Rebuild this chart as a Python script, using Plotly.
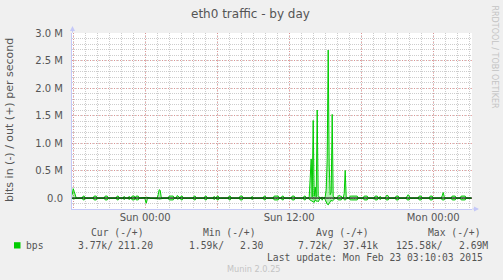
import pandas as pd
import plotly.graph_objects as go

# ---------------- data ----------------
title = "eth0 traffic - by day"
y_label = "bits in (-) / out (+) per second"
watermark = "RRDTOOL / TOBI OETIKER"
footer = "Munin 2.0.25"
last_update = "Last update: Mon Feb 23 03:10:03 2015"
series_name = "bps"

start_time = "2015-02-21 17:55:00"   # one sample every 5 minutes

# out (+) traffic, kbit/s
out_kbps = [
    60, 170, 120, 40, .5, .5, .5, .5, .5, .5, .5, 35, 35, .5, .5, .5, .5, .5, .5, .5,
    .5, .5, 35, 35, 35, .5, .5, .5, .5, .5, .5, .5, .5, 35, 35, 35, .5, .5, .5, .5,
    .5, .5, .5, .5, .5, 35, 35, .5, .5, .5, .5, .5, 30, .5, .5, .5, .5, 30, .5, .5,
    35, 35, 35, .5, 35, 35, 35, .5, .5, .5, .5, .5, .5, 10, 15, 10, .5, .5, .5, .5,
    .5, .5, .5, .5, .5, .5, 60, 150, 140, 20, .5, .5, .5, .5, .5, .5, .5, 35, 35, 35,
    35, 35, .5, .5, .5, 45, 25, .5, .5, 35, 35, .5, .5, .5, .5, .5, .5, .5, .5, .5,
    .5, .5, 35, 35, .5, .5, .5, .5, .5, .5, .5, .5, .5, 35, 35, .5, .5, .5, .5, .5,
    .5, .5, 30, .5, .5, 35, 35, .5, .5, .5, .5, .5, .5, .5, .5, .5, .5, 35, 35, .5,
    .5, .5, .5, .5, .5, .5, .5, .5, 35, 35, 35, .5, .5, .5, .5, .5, .5, .5, .5, .5,
    30, .5, .5, .5, .5, .5, .5, .5, .5, .5, .5, .5, 35, 35, .5, .5, .5, .5, .5, .5,
    .5, .5, 35, 35, 35, 35, 35, .5, .5, .5, 35, 35, .5, .5, .5, .5, .5, .5, .5, .5,
    35, 35, 35, .5, .5, .5, .5, .5, .5, .5, .5, .5, 35, 35, .5, .5, .5, 20, 300, 710,
    20, 1410, 30, 200, 20, 1600, 40, 10, .5, .5, 20, .5, .5, 20, 150, 700, 2690, 600, 60, 100,
    1520, 30, 10, .5, .5, .5, 35, 50, 35, 35, .5, .5, 80, 500, 20, .5, .5, .5, 35, 35,
    35, 35, 35, 35, 35, 35, .5, .5, .5, .5, .5, .5, 35, 35, 35, 35, .5, .5, .5, .5,
    .5, .5, .5, 35, 35, 35, .5, .5, 30, .5, .5, .5, .5, .5, 35, 55, 35, .5, .5, .5,
    .5, .5, .5, .5, 35, 35, 35, .5, .5, .5, .5, .5, .5, .5, .5, 35, 60, 35, .5, .5,
    .5, .5, .5, .5, .5, .5, .5, 35, 35, 35, .5, .5, .5, .5, .5, .5, .5, .5, 35, 35,
    35, .5, .5, .5, .5, .5, .5, .5, .5, .5, 40, 100, 30, .5, .5, .5, .5, .5, .5, .5,
    35, 35, 35, 35, .5, .5, .5, .5, .5, 35, 35, 35, 35, 35, .5, .5, .5, .5, .5, .211,
]

# in (-) traffic, kbit/s (drawn below zero)
in_kbps = [
    10, 20, 15, 10, 4, 4, 4, 4, 4, 4, 4, 35, 35, 4, 4, 4, 4, 4, 4, 4,
    4, 4, 35, 35, 35, 4, 4, 4, 4, 4, 4, 4, 4, 35, 35, 35, 4, 4, 4, 4,
    4, 4, 4, 4, 4, 35, 35, 4, 4, 4, 4, 4, 30, 4, 4, 4, 4, 30, 4, 4,
    35, 35, 35, 4, 35, 35, 35, 4, 4, 4, 4, 4, 4, 30, 95, 30, 4, 4, 4, 4,
    4, 4, 4, 4, 4, 4, 15, 20, 15, 10, 4, 4, 4, 4, 4, 4, 4, 35, 35, 35,
    35, 35, 4, 4, 4, 20, 15, 4, 4, 35, 35, 4, 4, 4, 4, 4, 4, 4, 4, 4,
    4, 4, 35, 35, 4, 4, 4, 4, 4, 4, 4, 4, 4, 35, 35, 4, 4, 4, 4, 4,
    4, 4, 30, 4, 4, 35, 35, 4, 4, 4, 4, 4, 4, 4, 4, 4, 4, 35, 35, 4,
    4, 4, 4, 4, 4, 4, 4, 4, 35, 35, 35, 4, 4, 4, 4, 4, 4, 4, 4, 4,
    30, 4, 4, 4, 4, 4, 4, 4, 4, 4, 4, 4, 35, 35, 4, 4, 4, 4, 4, 4,
    4, 4, 35, 35, 35, 35, 35, 4, 4, 4, 35, 35, 4, 4, 4, 4, 4, 4, 4, 4,
    35, 35, 35, 4, 4, 4, 4, 4, 4, 4, 4, 4, 35, 35, 4, 4, 4, 25, 40, 50,
    60, 70, 80, 30, 60, 50, 70, 20, 4, 4, 40, 4, 4, 30, 80, 110, 125.58, 100, 70, 40,
    60, 40, 20, 4, 4, 4, 35, 35, 35, 35, 4, 4, 30, 40, 15, 4, 4, 4, 35, 35,
    35, 35, 35, 35, 35, 35, 4, 4, 4, 4, 4, 4, 35, 35, 35, 35, 4, 4, 4, 4,
    4, 4, 4, 35, 35, 35, 4, 4, 30, 4, 4, 4, 4, 4, 35, 35, 35, 4, 4, 4,
    4, 4, 4, 4, 35, 35, 35, 4, 4, 4, 4, 4, 4, 4, 4, 35, 35, 35, 4, 4,
    4, 4, 4, 4, 4, 4, 4, 35, 35, 35, 4, 4, 4, 4, 4, 4, 4, 4, 35, 35,
    35, 4, 4, 4, 4, 4, 4, 4, 4, 4, 35, 35, 35, 4, 4, 4, 4, 4, 4, 4,
    35, 35, 35, 35, 4, 4, 4, 4, 4, 35, 35, 35, 35, 35, 4, 4, 4, 4, 4, 3.77,
]

x_range = ["2015-02-21 17:54:00", "2015-02-23 03:14:00"]
x_tick_vals = ["2015-02-21 18:00", "2015-02-22 00:00", "2015-02-22 06:00",
               "2015-02-22 12:00", "2015-02-22 18:00", "2015-02-23 00:00"]
x_tick_text = ["", "Sun 00:00", "", "Sun 12:00", "", "Mon 00:00"]

y_range = [-200000, 3000000]
y_tick_vals = [0, 500000, 1000000, 1500000, 2000000, 2500000, 3000000]
y_tick_text = ["0.0", "0.5 M", "1.0 M", "1.5 M", "2.0 M", "2.5 M", "3.0 M"]

legend_headers = ["Cur (-/+)", "Min (-/+)", "Avg (-/+)", "Max (-/+)"]
legend_in_vals = ["3.77k/", "1.59k/", "7.72k/", "125.58k/"]
legend_out_vals = ["211.20", "2.30", "37.41k", "2.69M"]

# ---------------- layout constants ----------------
W, H = 503, 280
ML, MR, MT, MB = 72, 31, 33, 71
PW, PH = W - ML - MR, H - MT - MB
GREEN = "#00CC00"
GREEN_FILL = "rgba(0,204,0,0.3)"
TEXT = "#555555"
AXIS_BLUE = "#C4C8F8"
MAJOR_GRID = "rgba(230,110,110,0.6)"
MINOR_GRID = "#CDCDCD"
SANS = "DejaVu Sans"
MONO = "DejaVu Sans Mono"


def px(x):
    return (x - ML) / PW


def py(y):
    return (H - MB - y) / PH


times = pd.date_range(start_time, periods=len(out_kbps), freq="5min")

fig = go.Figure()
fig.add_trace(go.Scatter(x=times, y=[v * 1000 for v in out_kbps], mode="lines",
                         line=dict(color=GREEN, width=1), fill="tozeroy",
                         fillcolor=GREEN_FILL, hoverinfo="skip", showlegend=False))
fig.add_trace(go.Scatter(x=times, y=[-v * 1000 for v in in_kbps], mode="lines",
                         line=dict(color=GREEN, width=1), fill="tozeroy",
                         fillcolor=GREEN_FILL, hoverinfo="skip", showlegend=False))

# zero rule on top of the lines
fig.add_shape(type="line", xref="paper", yref="y", x0=0, x1=1, y0=0, y1=0,
              line=dict(color="black", width=1), layer="above")

fig.update_layout(
    width=W, height=H, autosize=False,
    margin=dict(l=ML, r=MR, t=MT, b=MB, pad=0),
    paper_bgcolor="#F0F0F0", plot_bgcolor="#FFFFFF",
    showlegend=False,
    font=dict(family=SANS, size=10, color=TEXT),
    xaxis=dict(
        type="date", range=x_range, tickmode="array",
        tickvals=x_tick_vals, ticktext=x_tick_text,
        showgrid=True, gridcolor=MAJOR_GRID, griddash="1px,2px", gridwidth=1,
        minor=dict(dtick=3600000, tick0="2015-02-21 18:00", showgrid=True,
                   gridcolor=MINOR_GRID, griddash="1px,1px", gridwidth=1),
        showline=True, linecolor=AXIS_BLUE, linewidth=1,
        zeroline=False, ticks="", ticklabelstandoff=-1,
        tickfont=dict(family=SANS, size=10, color=TEXT),
        fixedrange=True,
    ),
    yaxis=dict(
        range=y_range, tickmode="array", tickvals=y_tick_vals, ticktext=y_tick_text,
        showgrid=True, gridcolor=MAJOR_GRID, griddash="1px,2px", gridwidth=1,
        minor=dict(dtick=100000, tick0=0, showgrid=True,
                   gridcolor=MINOR_GRID, griddash="1px,1px", gridwidth=1),
        showline=True, linecolor=AXIS_BLUE, linewidth=1,
        zeroline=False, ticks="", ticklabelstandoff=6,
        tickfont=dict(family=SANS, size=10, color=TEXT),
        fixedrange=True,
    ),
)

ann = []


def text(x, y, s, size, family=SANS, color=TEXT, xanchor="left", angle=0):
    ann.append(dict(x=px(x), y=py(y), xref="paper", yref="paper", text=s,
                    showarrow=False, xanchor=xanchor, yanchor="middle",
                    textangle=angle, borderpad=0, borderwidth=0,
                    font=dict(family=family, size=size, color=color)))


# title, axis label, watermark, footer
text(250, 14.5, title, 12, xanchor="center")
text(10, 120, y_label, 11, xanchor="center", angle=-90)
text(494.5, 57, watermark, 8, color="#C4C4C4", xanchor="center", angle=90)
text(253.5, 268.5, footer, 8.2, color="#C4C4C4", xanchor="center")

# legend
header_x = [91.7, 204, 316.7, 429]
in_x = [79, 189.3, 299, 396.7]
out_x = [118.3, 240.7, 343.3, 459.3]
for hx, h in zip(header_x, legend_headers):
    text(hx - 0.7, 233, h, 9.7, family=MONO)
text(26.7 - 0.7, 245.3, series_name, 9.7, family=MONO)
for ix, s in zip(in_x, legend_in_vals):
    text(ix - 0.7, 245.3, s, 9.7, family=MONO)
for ox, s in zip(out_x, legend_out_vals):
    text(ox - 0.7, 245.3, s, 9.7, family=MONO)
text(267.3 - 0.7, 257, last_update, 9.7, family=MONO)

# axis arrows
ann.append(dict(x=px(72.5), y=py(26), xref="paper", yref="paper", ax=0, ay=8,
                text="", showarrow=True, arrowhead=2, arrowsize=1, arrowwidth=1,
                arrowcolor=AXIS_BLUE))
ann.append(dict(x=px(479), y=py(209), xref="paper", yref="paper", ax=-8, ay=0,
                text="", showarrow=True, arrowhead=2, arrowsize=1, arrowwidth=1,
                arrowcolor=AXIS_BLUE))
fig.update_layout(annotations=ann)

# legend swatch
fig.add_shape(type="rect", xref="paper", yref="paper",
              x0=px(14), x1=px(20.5), y0=py(248.5), y1=py(242.2),
              fillcolor=GREEN, line=dict(width=0))

fig.write_html("out.html", config={"displayModeBar": False, "staticPlot": True})
